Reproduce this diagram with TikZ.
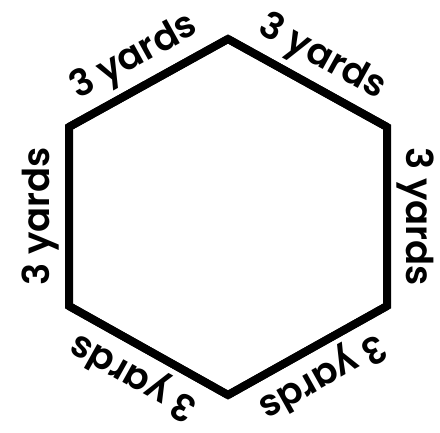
\documentclass[tikz,border=0pt]{standalone}
\usepackage{fontspec}
\setmainfont{Poppins}
\newfontfamily\yardfont{Poppins SemiBold}
\begin{document}
\begin{tikzpicture}[x=1pt, y=-1pt,
    side/.style={line width=8pt, black},
    yardlabel/.style={font=\fontsize{37}{40}\selectfont\yardfont, sloped, allow upside down,
                      above=9pt, inner sep=1pt, outer sep=0pt, midway}]

  % --- Marco ---
  \useasboundingbox (0,0) rectangle (440,433);

  % --- Vértices del hexágono ---
  \coordinate (top) at (228,39);
  \coordinate (ur)  at (387,127);
  \coordinate (lr)  at (387,306);
  \coordinate (bot) at (228,395);
  \coordinate (ll)  at (69,306);
  \coordinate (ul)  at (69,127);

  % --- Lados con etiquetas (sentido horario) ---
  \draw[side] (ul) -- node[yardlabel] (lbA) {3 yards} (top);
  \draw[side] (top) -- node[yardlabel] (lbB) {3 yards} (ur);
  \draw[side] (ur) -- node[yardlabel] (lbC) {3 yards} (lr);
  \draw[side] (lr) -- node[yardlabel] (lbD) {3 yards} (bot);
  \draw[side] (bot) -- node[yardlabel] (lbE) {3 yards} (ll);
  \draw[side] (ll) -- node[yardlabel] (lbF) {3 yards} (ul);

  % --- Esquinas cerradas ---
  \draw[side] (ul) -- (top) -- (ur) -- (lr) -- (bot) -- (ll) -- cycle;

\end{tikzpicture}
\end{document}
